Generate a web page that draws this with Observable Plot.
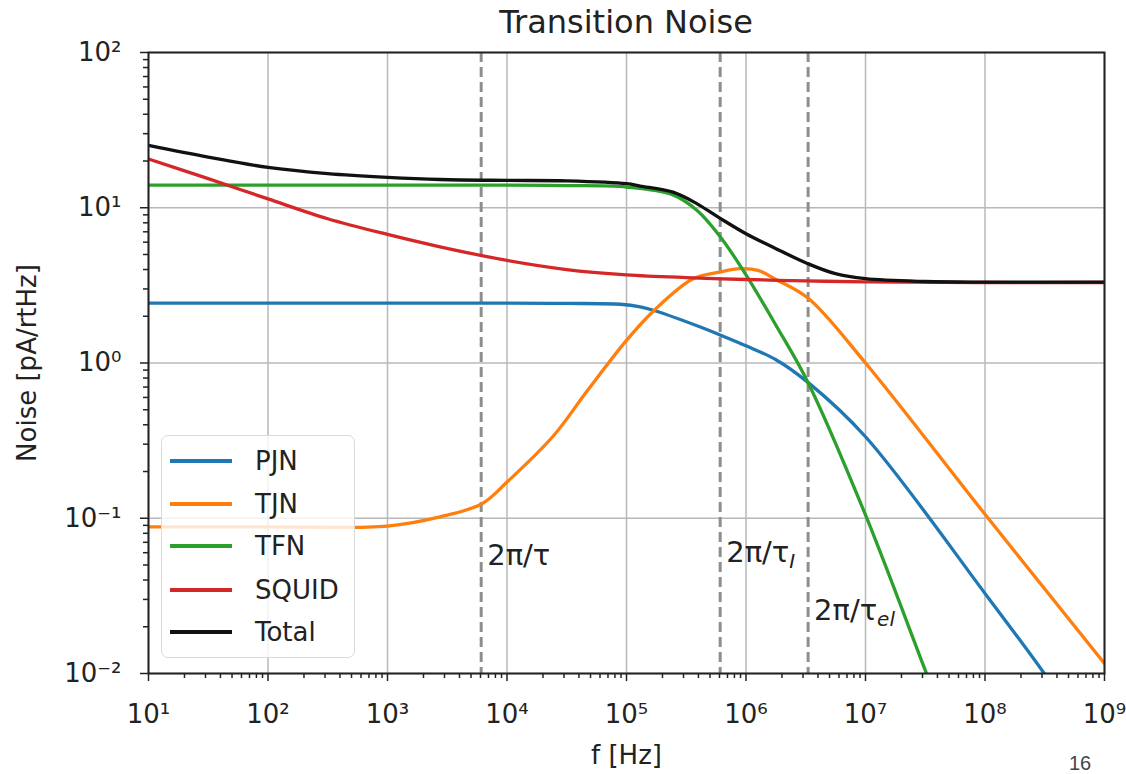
<!DOCTYPE html>
<html>
<head>
<meta charset="utf-8">
<script src="https://cdn.jsdelivr.net/npm/d3@7"></script>
<script src="https://cdn.jsdelivr.net/npm/@observablehq/plot@0.6"></script>
<style>
  body { margin: 0; background: #fff; font-family: "DejaVu Sans", sans-serif; overflow: hidden; }
  #wrap { position: relative; width: 1126px; height: 774px; overflow: hidden; background: #fff; }
  #title { position: absolute; left: 148px; width: 956px; top: 0; height: 40px; line-height: 44px;
           text-align: center; font-size: 32px; color: #222; white-space: nowrap; }
  #chart { position: absolute; left: 0; top: 40px; }
  #legend { position: absolute; left: 161px; top: 435px; width: 194px; height: 223px;
            background: rgba(255,255,255,0.8); border: 1.5px solid #dadada; border-radius: 7px;
            box-sizing: border-box; }
  .row { position: absolute; left: 0; height: 0; }
  .sw { position: absolute; left: 8px; width: 62px; height: 4px; top: -2px; }
  .lb { position: absolute; left: 93px; top: -16px; font-size: 26px; line-height: 32px; color: #222; white-space: nowrap; }
  #page { position: absolute; left: 1069px; top: 753px; font-size: 20px; line-height: 20px; color: #444;
          font-family: "Liberation Sans", Arial, sans-serif; }
</style>
</head>
<body>
<div id="wrap">
  <div id="title">Transition Noise</div>
  <div id="chart"></div>
  <div id="legend"></div>
  <div id="page">16</div>
</div>
<script>
// ---- series names and colours ----
const seriesNames = ["PJN", "TJN", "TFN", "SQUID", "Total"];
const seriesColors = ["#1f77b4", "#ff7f0e", "#2ca02c", "#d62728", "#111111"];

// ---- values (f in Hz, noise in pA/rtHz) ----
const pjnF = [10, 100, 1000, 1e4, 3.16e4, 8.9e4, 1.3e5, 1.7e5, 4.2e5, 6e5, 1e6, 1.78e6, 3.3e6, 1e7, 1e8, 3.16e8, 5e8];
const pjnV = [2.43, 2.43, 2.43, 2.43, 2.42, 2.39, 2.3, 2.18, 1.70, 1.52, 1.29, 1.05, 0.75, 0.335, 0.0328, 0.0099, 0.0058];

const tjnF = [10, 100, 1000, 2750, 6170, 1e4, 2.45e4, 4.68e4, 1e5, 1.7e5, 3.6e5, 6e5, 8.9e5, 1.26e6, 1.78e6, 3.3e6, 1e7, 1e8, 1e9];
const tjnV = [0.088, 0.088, 0.089, 0.102, 0.124, 0.171, 0.34, 0.66, 1.40, 2.18, 3.49, 3.85, 4.05, 3.95, 3.45, 2.62, 1.0, 0.106, 0.0116];

const tfnF = [10, 100, 1000, 1e4, 3.16e4, 1e5, 2.45e5, 3.9e5, 6e5, 1e6, 1.78e6, 3.3e6, 1e7, 3.16e7, 4e7];
const tfnV = [14.0, 14.0, 14.0, 14.0, 13.9, 13.6, 12.1, 9.6, 6.6, 3.7, 1.75, 0.75, 0.105, 0.0105, 0.0066];

const squidF = [10, 31.6, 100, 316, 1000, 2750, 1e4, 3.16e4, 1e5, 3.16e5, 1e6, 3.16e6, 1e7, 1e8, 1e9];
const squidV = [20.6, 15.4, 11.4, 8.5, 6.73, 5.6, 4.58, 4.0, 3.7, 3.55, 3.45, 3.38, 3.33, 3.3, 3.3];

const totalF = [10, 31.6, 100, 316, 1000, 2750, 1e4, 3.16e4, 1e5, 1.3e5, 2.45e5, 3.9e5, 6e5, 1e6, 1.78e6, 3.3e6, 5.6e6, 1e7, 3.16e7, 1e8, 1e9];
const totalV = [25.2, 21.2, 18.2, 16.6, 15.7, 15.2, 15.0, 14.9, 14.3, 13.8, 12.6, 10.6, 8.6, 6.8, 5.45, 4.36, 3.76, 3.49, 3.35, 3.32, 3.32];

// ---- characteristic frequencies (dashed lines) ----
const markerF = [6080, 6.08e5, 3.31e6];
const markerText = ["2π/τ", "2π/τ", "2π/τ"];
const markerSub = ["", "I", "el"];
const markerLabelY = [0.0577, 0.0603, 0.0255];

// ---- tick values ----
const majorX = [1e1, 1e2, 1e3, 1e4, 1e5, 1e6, 1e7, 1e8, 1e9];
const majorY = [1e-2, 1e-1, 1e0, 1e1, 1e2];
const minorMult = [2, 3, 4, 5, 6, 7, 8, 9];

// ---- build tables ----
const fs = [pjnF, tjnF, tfnF, squidF, totalF];
const vs = [pjnV, tjnV, tfnV, squidV, totalV];
const rows = [];
seriesNames.forEach((s, i) => fs[i].forEach((f, j) => rows.push({series: s, f, v: vs[i][j]})));
const markers = markerF.map((f, i) => ({f, text: markerText[i], sub: markerSub[i], ly: markerLabelY[i]}));
const minorX = majorX.slice(0, -1).flatMap(d => minorMult.map(m => d * m));
const minorY = majorY.slice(0, -1).flatMap(d => minorMult.map(m => d * m));

const supMap = {"-": "⁻", "0": "⁰", "1": "¹", "2": "²", "3": "³", "4": "⁴", "5": "⁵", "6": "⁶", "7": "⁷", "8": "⁸", "9": "⁹"};
const fmt = d => "10" + String(Math.round(Math.log10(d))).split("").map(c => supMap[c]).join("");

const font = "DejaVu Sans";

const chart = Plot.plot({
  width: 1126,
  height: 734,
  marginLeft: 148,
  marginRight: 22,
  marginTop: 12,
  marginBottom: 101,
  style: {fontFamily: font, fontSize: "26px", color: "#222", background: "transparent", overflow: "visible"},
  x: {type: "log", domain: [10, 1e9]},
  y: {type: "log", domain: [0.01, 100]},
  color: {domain: seriesNames, range: seriesColors},
  marks: [
    Plot.gridX(majorX, {stroke: "#b8b8b8", strokeOpacity: 1, strokeWidth: 1.5}),
    Plot.gridY(majorY, {stroke: "#b8b8b8", strokeOpacity: 1, strokeWidth: 1.5}),
    Plot.ruleX(markers, {x: "f", stroke: "#8e8e8e", strokeWidth: 3, strokeDasharray: "10,5"}),
    Plot.line(rows, {x: "f", y: "v", z: "series", stroke: "series", strokeWidth: 3.3, curve: "catmull-rom", clip: true}),
    Plot.text(markers, {x: "f", y: "ly", text: "text", textAnchor: "start", dx: 6, fontSize: 29, fill: "#222"}),
    Plot.text(markers, {x: "f", y: "ly", text: "sub", textAnchor: "start", dx: 69, dy: 9, fontSize: 20, fontStyle: "italic", fill: "#222"}),
    Plot.axisX(minorX, {tickSize: 5, tickFormat: () => "", label: null, strokeWidth: 1.5}),
    Plot.axisY(minorY, {tickSize: 5, tickFormat: () => "", label: null, strokeWidth: 1.5}),
    Plot.axisX(majorX, {tickFormat: fmt, tickSize: 8, tickPadding: 23, fontSize: 26, strokeWidth: 1.5,
      label: "f [Hz]", labelAnchor: "center", labelOffset: 90, labelArrow: "none"}),
    Plot.axisY(majorY, {tickFormat: fmt, tickSize: 8, tickPadding: 19, fontSize: 26, strokeWidth: 1.5,
      label: "Noise [pA/rtHz]", labelAnchor: "center", labelOffset: 131, labelArrow: "none"}),
    Plot.frame({stroke: "#222", strokeWidth: 2})
  ]
});
document.getElementById("chart").appendChild(chart);

// ---- legend ----
const legend = document.getElementById("legend");
const rowTops = [25, 68, 110, 154, 196];
seriesNames.forEach((s, i) => {
  const r = document.createElement("div");
  r.className = "row";
  r.style.top = rowTops[i] + "px";
  r.innerHTML = `<div class="sw" style="background:${seriesColors[i]}"></div><div class="lb">${s}</div>`;
  legend.appendChild(r);
});
</script>
</body>
</html>
